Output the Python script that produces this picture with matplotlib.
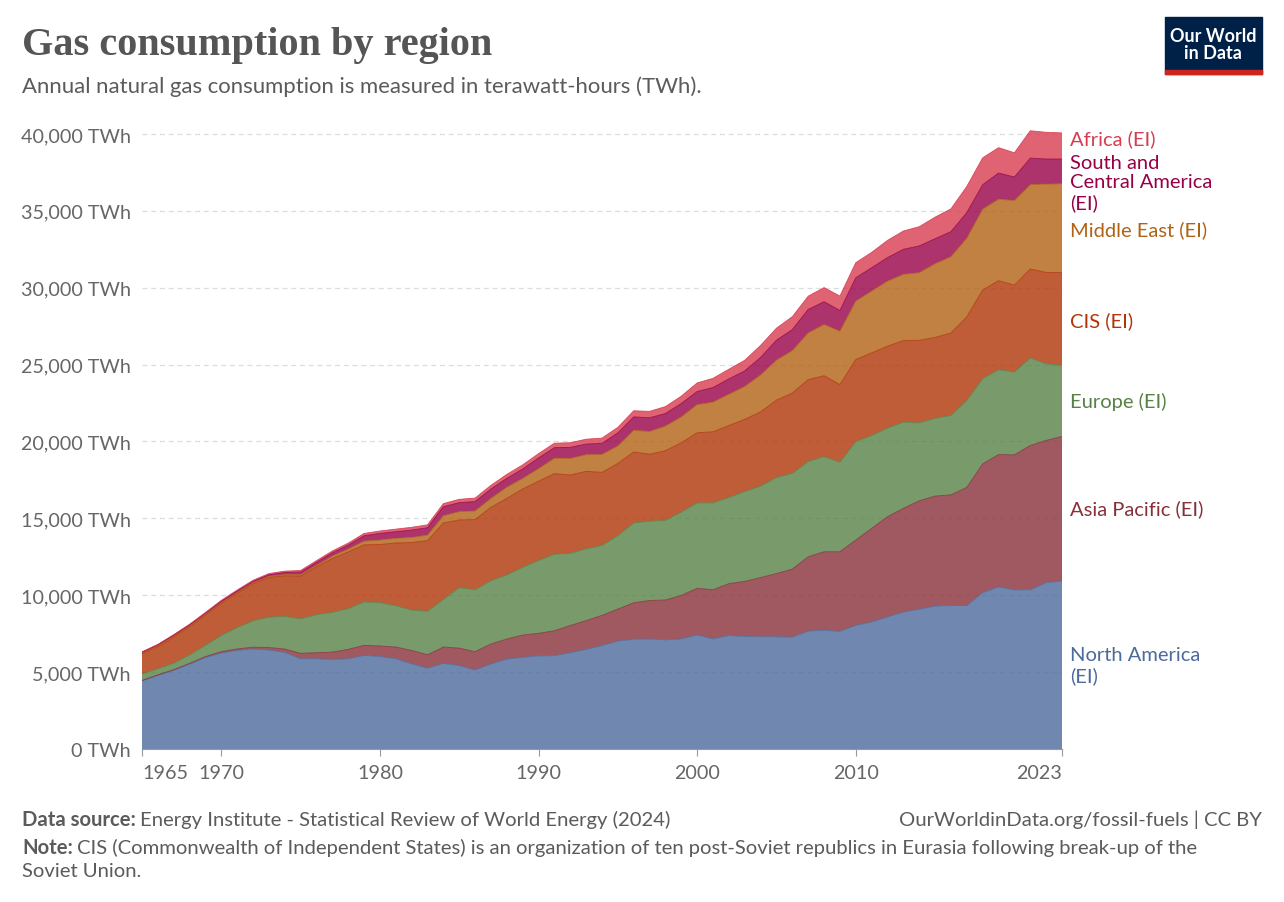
import numpy as np
import matplotlib.pyplot as plt
from matplotlib.patches import Rectangle
from matplotlib.ticker import FuncFormatter

plt.rcParams['font.family'] = ['Lato', 'DejaVu Sans']

# values (TWh)
years = np.arange(1965, 2024)

north_america = [4430, 4790, 5120, 5520, 5950, 6240, 6410, 6510, 6440, 6290,
                 5870, 5870, 5830, 5870, 6090, 6020, 5870, 5540, 5260, 5570,
                 5430, 5140, 5530, 5850, 5960, 6060, 6070, 6260, 6480, 6730,
                 7020, 7140, 7160, 7100, 7160, 7420, 7160, 7380, 7320, 7300,
                 7300, 7280, 7670, 7720, 7650, 8040, 8260, 8590, 8910, 9090,
                 9300, 9330, 9330, 10170, 10540, 10350, 10350, 10820, 10930]
asia_pacific = [30, 30, 40, 50, 60, 90, 100, 110, 160, 210,
                350, 390, 470, 610, 650, 680, 760, 870, 870, 1060,
                1130, 1190, 1300, 1300, 1450, 1460, 1620, 1770, 1870, 1960,
                2080, 2370, 2500, 2590, 2830, 3030, 3200, 3370, 3580, 3850,
                4110, 4420, 4830, 5110, 5180, 5550, 6090, 6520, 6740, 7050,
                7150, 7200, 7690, 8370, 8610, 8780, 9390, 9250, 9400]
europe = [420, 400, 420, 550, 740, 1060, 1390, 1720, 1980, 2130,
          2250, 2480, 2590, 2650, 2830, 2820, 2690, 2630, 2830, 3100,
          3940, 4030, 4120, 4170, 4410, 4740, 4980, 4700, 4670, 4550,
          4780, 5200, 5160, 5180, 5420, 5560, 5650, 5610, 5850, 5950,
          6250, 6230, 6200, 6190, 5820, 6410, 6040, 5760, 5610, 5070,
          5060, 5170, 5650, 5550, 5520, 5390, 5690, 4990, 4620]
cis = [1320, 1430, 1700, 1840, 1970, 2090, 2230, 2410, 2590, 2640,
       2780, 3110, 3500, 3690, 3710, 3780, 4080, 4390, 4590, 4970,
       4400, 4560, 4770, 4980, 5090, 5160, 5240, 5090, 5040, 4750,
       4690, 4610, 4350, 4530, 4510, 4560, 4620, 4680, 4690, 4830,
       5030, 5220, 5320, 5260, 5050, 5330, 5370, 5330, 5300, 5370,
       5260, 5360, 5440, 5760, 5790, 5650, 5790, 5940, 6030]
middle_east = [40, 50, 50, 50, 50, 50, 50, 60, 60, 70,
               80, 90, 150, 180, 240, 290, 300, 330, 360, 470,
               540, 560, 580, 720, 690, 810, 1000, 1080, 1080, 1170,
               1140, 1410, 1480, 1600, 1680, 1830, 1930, 2030, 2140, 2400,
               2600, 2760, 3040, 3330, 3470, 3800, 4020, 4230, 4310, 4400,
               4790, 4960, 5110, 5260, 5300, 5500, 5480, 5740, 5780]
south_central_america = [60, 80, 80, 70, 70, 80, 90, 90, 100, 140,
                         180, 200, 220, 260, 350, 430, 430, 480, 480, 590,
                         580, 610, 610, 580, 610, 700, 690, 720, 690, 720,
                         850, 870, 890, 820, 870, 850, 950, 1000, 1010, 1140,
                         1300, 1370, 1530, 1480, 1350, 1520, 1520, 1530, 1630, 1740,
                         1630, 1630, 1670, 1590, 1700, 1530, 1730, 1630, 1610]
africa = [20, 25, 30, 35, 40, 60, 70, 75, 80, 90,
          100, 110, 120, 130, 150, 160, 170, 180, 190, 200,
          220, 230, 240, 260, 270, 280, 290, 300, 320, 340,
          360, 400, 420, 450, 480, 560, 600, 630, 690, 780,
          780, 840, 860, 920, 940, 980, 1000, 1120, 1190, 1250,
          1400, 1480, 1700, 1750, 1650, 1580, 1780, 1740, 1700]

series = [north_america, asia_pacific, europe, cis, middle_east,
          south_central_america, africa]
colors = ['#4C6A9C', '#883039', '#578145', '#B13507', '#B16214',
          '#970046', '#D73C50']
labels = ['North America\n(EI)', 'Asia Pacific (EI)', 'Europe (EI)', 'CIS (EI)',
          'Middle East (EI)', 'South and\nCentral America\n(EI)', 'Africa (EI)']
label_y = [5460, 15670, 22630, 27900, 33820, 36850, 39740]

x_ticks = [1965, 1970, 1980, 1990, 2000, 2010, 2023]
y_ticks = [0, 5000, 10000, 15000, 20000, 25000, 30000, 35000, 40000]

W, H = 1284, 903
fig = plt.figure(figsize=(W / 100, H / 100), dpi=100)
ax = fig.add_axes([142 / W, 1 - 750 / H, 920 / W, 620 / H])

ax.stackplot(years, *series, colors=colors, alpha=0.8,
             edgecolor='none', linewidth=0)
# thin outlines on top of each band
top = np.zeros(len(years))
for vals, c in zip(series, colors):
    top = top + np.array(vals)
    ax.plot(years, top, color=c, lw=0.6, alpha=0.9)

ax.set_xlim(1965, 2023)
ax.set_ylim(0, 40325)
ax.set_yticks(y_ticks)
ax.yaxis.set_major_formatter(FuncFormatter(lambda v, p: f'{int(v):,} TWh'))
ax.set_xticks(x_ticks)
ax.grid(axis='y', color='#dddddd', linestyle=(0, (4, 3)), lw=0.9)
ax.set_axisbelow(True)
for s in ['top', 'right', 'left']:
    ax.spines[s].set_visible(False)
ax.spines['bottom'].set_color('#999999')
ax.tick_params(axis='y', length=0, pad=8, labelsize=14.2, labelcolor='#666666')
ax.tick_params(axis='x', length=5, color='#999999', pad=6,
               labelsize=14.2, labelcolor='#666666')
xl = ax.get_xticklabels()
xl[0].set_ha('left')
xl[-1].set_ha('right')

for txt, yv, c in zip(labels, label_y, colors):
    ax.text(1 + 8 / 920, yv, txt, transform=ax.get_yaxis_transform(),
            color=c, fontsize=14.5, va='center', ha='left', linespacing=1.2)

# title and subtitle
fig.text(22 / W, 1 - 45 / H, 'Gas consumption by region', fontsize=29,
         fontweight='bold', color='#555555', va='center',
         family=['Liberation Serif', 'DejaVu Serif'])
fig.text(22 / W, 1 - 87 / H,
         'Annual natural gas consumption is measured in terawatt-hours (TWh).',
         fontsize=15.9, color='#5b5b5b', va='center')

# logo
fig.patches.append(Rectangle((1165 / W, 1 - 75 / H), 97 / W, 57 / H,
                             transform=fig.transFigure, color='#002147'))
fig.patches.append(Rectangle((1165 / W, 1 - 75 / H), 97 / W, 4 / H,
                             transform=fig.transFigure, color='#CE261E'))
fig.text(1213 / W, 1 - 45 / H, 'Our World\nin Data', color='white',
         fontsize=13, fontweight='bold', ha='center', va='center',
         linespacing=1.0)

# footer
renderer = fig.canvas.get_renderer()
fs = 14.6


def rich_line(x, y, bold, rest):
    t = fig.text(x, y, bold, fontsize=fs, fontweight='bold',
                 color='#5b5b5b', va='center')
    bb = t.get_window_extent(renderer)
    fig.text(bb.x1 / W + 4 / W, y, rest, fontsize=fs, color='#5b5b5b',
             va='center')


rich_line(22 / W, 1 - 820 / H, 'Data source:',
          'Energy Institute - Statistical Review of World Energy (2024)')
fig.text(1262 / W, 1 - 820 / H, 'OurWorldinData.org/fossil-fuels | CC BY',
         fontsize=fs, color='#5b5b5b', va='center', ha='right')
rich_line(22 / W, 1 - 848 / H, 'Note:',
          'CIS (Commonwealth of Independent States) is an organization of ten '
          'post-Soviet republics in Eurasia following break-up of the')
fig.text(22 / W, 1 - 872 / H, 'Soviet Union.', fontsize=fs,
         color='#5b5b5b', va='center')

plt.savefig('out.png', dpi=100)
